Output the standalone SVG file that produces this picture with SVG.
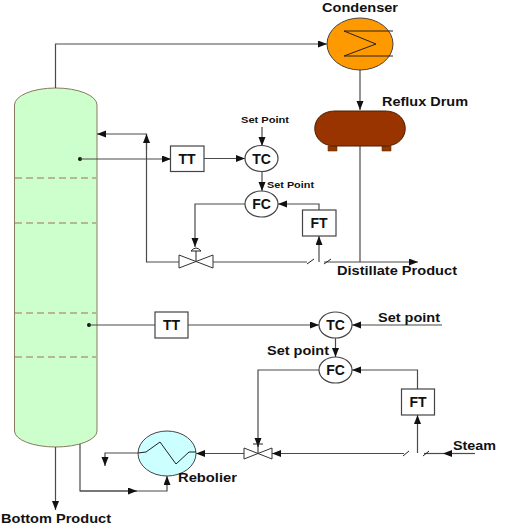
<svg xmlns="http://www.w3.org/2000/svg" width="511" height="527" viewBox="0 0 511 527">
<style>
.c{fill:none;stroke:#4a4a4a;stroke-width:1.2}
.k{fill:none;stroke:#222;stroke-width:1}
.b{fill:#fff;stroke:#444;stroke-width:1.2}
.t{font-family:"Liberation Sans",Arial,sans-serif;font-weight:bold;fill:#111;font-size:12px}
.s{font-size:9.5px}
.n{font-size:14px;text-anchor:middle}
.d{fill:none;stroke:#a0705a;stroke-width:1;stroke-dasharray:7 4}
</style>
<defs>
<marker id="a" markerUnits="userSpaceOnUse" markerWidth="10" markerHeight="8" refX="9" refY="3.500" orient="auto"><path d="M0 0L9 3.500L0 7Z" fill="#111"/></marker>
</defs>
<rect width="511" height="527" fill="#fff"/>
<g id="column">
<path d="M14.500 105A41.250 17 0 0 1 97 105V431A41.250 16 0 0 1 14.500 431Z" fill="#ccffcc" stroke="#8a7a60" stroke-width="1"/>
<path class="d" d="M15 178H96M15 223H96M15 313H96M15 357H96"/>
<circle cx="80" cy="159" r="2" fill="#111"/>
<circle cx="89" cy="325" r="2" fill="#111"/>
</g>
<g id="connectors">
<path class="c" d="M55.500 88V44H327" marker-end="url(#a)"/>
<path class="c" d="M360 70V110" marker-end="url(#a)"/>
<path class="c" d="M360 146V262"/>
<path class="c" d="M213 262H307"/>
<path class="c" d="M324 262H418" marker-end="url(#a)"/>
<path class="k" d="M307 264L314 259M324 264L331 259"/>
<path class="c" d="M179 262H146.500V134H97" marker-end="url(#a)"/>
<path class="c" d="M146.500 150V134" marker-end="url(#a)"/>
<path class="c" d="M80 159H171" marker-end="url(#a)"/>
<path class="c" d="M204 158.500H245" marker-end="url(#a)"/>
<path class="c" d="M262 127V146" marker-end="url(#a)"/>
<path class="c" d="M262 172V191" marker-end="url(#a)"/>
<path class="c" d="M245 204H195V247" marker-end="url(#a)"/>
<path class="c" d="M319 210V204H278" marker-end="url(#a)"/>
<path class="c" d="M319 262V236" marker-end="url(#a)"/>
<path class="c" d="M89 325H155"/>
<path class="c" d="M188 325H319" marker-end="url(#a)"/>
<path class="c" d="M442 325H352" marker-end="url(#a)"/>
<path class="c" d="M335.500 338V357" marker-end="url(#a)"/>
<path class="c" d="M319 370H258V447" marker-end="url(#a)"/>
<path class="c" d="M417.500 389V370H352" marker-end="url(#a)"/>
<path class="c" d="M417.500 453V415" marker-end="url(#a)"/>
<path class="c" d="M404 453.500H272" marker-end="url(#a)"/>
<path class="c" d="M475 453.500H443" marker-end="url(#a)"/>
<path class="c" d="M443 453.500H424"/>
<path class="k" d="M403 456L409 451M423 456L429 451"/>
<path class="c" d="M244 453.500H196" marker-end="url(#a)"/>
<path class="c" d="M138 453H105V466" marker-end="url(#a)"/>
<path class="c" d="M55.500 447V510" marker-end="url(#a)"/>
<path class="c" d="M80 444V491H167V476" marker-end="url(#a)"/>
<path class="c" d="M80 491H137" marker-end="url(#a)"/>
</g>
<g id="condenser">
<ellipse cx="360" cy="44" rx="33" ry="26" fill="#ff9900" stroke="#444"/>
<path class="k" d="M393 31H344L376 44L344 56H393"/>
<text class="t" x="322" y="12" textLength="76" lengthAdjust="spacingAndGlyphs">Condenser</text>
</g>
<g id="reflux-drum">
<path d="M328 146H337V151H328ZM382 146H391V151H382Z" fill="#8f3a00" stroke="#6b2c00" stroke-width=".6"/>
<path d="M335 111H385C412 111 412 146 385 146H335C308 146 308 111 335 111Z" fill="#993300" stroke="#4a2000"/>
<text class="t" x="382" y="106" textLength="86" lengthAdjust="spacingAndGlyphs">Reflux Drum</text>
</g>
<g id="valve-top">
<path d="M179 255L213 268V255L179 268Z" fill="#fff" stroke="#333"/>
<path class="k" d="M196 261V251M191 251Q196 245 201 251Z"/>
</g>
<g id="valve-bottom">
<path d="M244 448L272 459V448L244 459Z" fill="#fff" stroke="#333"/>
<path class="k" d="M258 453V444M253 444H263"/>
</g>
<g id="rebolier">
<ellipse cx="167" cy="453.500" rx="29" ry="22.500" fill="#ccffff" stroke="#444"/>
<path class="k" d="M138 453L146 452L160 442L176 464L189 452H196"/>
<text class="t" x="178" y="482" textLength="59" lengthAdjust="spacingAndGlyphs">Rebolier</text>
</g>
<g id="tt-top"><rect class="b" x="170.500" y="146" width="33.500" height="25.500"/><text class="t n" x="187" y="163.500">TT</text></g>
<g id="tc-top"><ellipse class="b" cx="261.500" cy="158.500" rx="16.500" ry="13"/><text class="t n" x="261.500" y="163.500">TC</text></g>
<g id="fc-top"><ellipse class="b" cx="261.500" cy="204" rx="16.500" ry="13"/><text class="t n" x="261.500" y="209">FC</text></g>
<g id="ft-top"><rect class="b" x="302.500" y="210" width="33.500" height="26"/><text class="t n" x="319" y="228">FT</text></g>
<g id="tt-bottom"><rect class="b" x="155" y="312" width="33" height="26"/><text class="t n" x="171.500" y="330">TT</text></g>
<g id="tc-bottom"><ellipse class="b" cx="335.500" cy="325" rx="16.500" ry="13"/><text class="t n" x="335.500" y="330">TC</text></g>
<g id="fc-bottom"><ellipse class="b" cx="335.500" cy="370" rx="16.500" ry="13"/><text class="t n" x="335.500" y="375">FC</text></g>
<g id="ft-bottom"><rect class="b" x="401.500" y="389" width="33" height="26"/><text class="t n" x="418" y="406.500">FT</text></g>
<g id="labels">
<text class="t s" x="241" y="123" textLength="48" lengthAdjust="spacingAndGlyphs">Set Point</text>
<text class="t s" x="267" y="188" textLength="47" lengthAdjust="spacingAndGlyphs">Set Point</text>
<text class="t" x="337" y="275" textLength="120" lengthAdjust="spacingAndGlyphs">Distillate Product</text>
<text class="t" x="378" y="322" textLength="62" lengthAdjust="spacingAndGlyphs">Set point</text>
<text class="t" x="267" y="355" textLength="62" lengthAdjust="spacingAndGlyphs">Set point</text>
<text class="t" x="453" y="450" textLength="43" lengthAdjust="spacingAndGlyphs">Steam</text>
<text class="t" x="1" y="523" textLength="110" lengthAdjust="spacingAndGlyphs">Bottom Product</text>
</g>
</svg>
